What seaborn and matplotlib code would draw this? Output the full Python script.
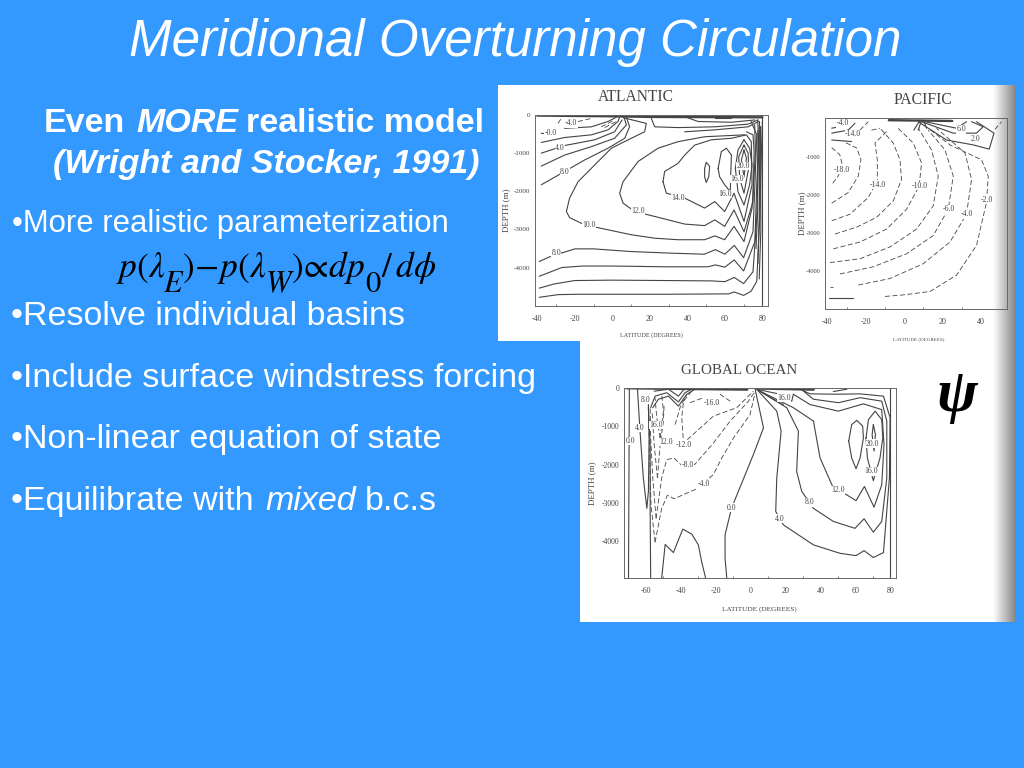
import numpy as np
import pandas as pd
import seaborn as sns
import matplotlib.pyplot as plt
from matplotlib.patches import Rectangle

# contours, (latitude, depth)
# ---- Atlantic
atl_a = [(-39,-4780),(-29,-4710),(-18,-4700),(0,-4700),(28,-4700),(62,-4690),(65,-4640),(70,-4730),(74,-4620),(77,-4360),(78.6,-2700),(79.5,-960),(80,-170)]
atl_b = [(-39,-4540),(-31,-4430),(-20,-4340),(0,-4330),(28,-4340),(53,-4350),(60,-4370),(65,-4260),(70,-4420),(75,-4110),(77,-2700),(78,-960),(78.5,-170)]
atl_c = [(-39,-4230),(-27,-4000),(-16,-3960),(0,-3960),(28,-3980),(51,-3980),(55,-3930),(60,-3990),(65,-3800),(70,-4090),(76,-3320),(77,-1840),(78,-700),(77.5,-130)]
atl_8 = [(-39,-3840),(-33,-3710),(-20,-3510),(-10,-3510),(10,-3580),(30,-3620),(49,-3650),(55,-3530),(60,-3650),(65,-3420),(70,-3740),(75,-3060),(76,-1840),(77,-520),(74,-170)]
atl_10 = [(5.7,-70),(18.1,-220),(17.2,-440),(10.1,-610),(-0.5,-870),(-7.6,-1220),(-18.3,-1750),(-22.8,-2180),(-24.5,-2530),(-22.8,-2690),(-14.8,-2880),(-2.3,-3010),(10.1,-3140),(22.6,-3230),(35,-3270),(49.2,-3270),(54.6,-3170),(59.9,-3270),(64.9,-2920),(70.2,-3320),(74.5,-2440),(76.3,-960),(75.9,-260)]
atl_12 = [(70.6,-520),(49.2,-570),(35,-700),(24.4,-870),(13.7,-1220),(5.7,-1750),(3.9,-2050),(5.7,-2310),(11.9,-2530),(22.6,-2660),(38.6,-2860),(49.2,-2900),(54.6,-2750),(59.9,-2920),(64.9,-2490),(70.2,-3060),(75,-2270),(75.6,-960),(75,-520),(71.5,-440)]
atl_14 = [(27,-1750),(27.9,-1480),(35,-1270),(38.6,-1050),(43.9,-790),(52.8,-650),(63.5,-610),(71.5,-520),(74.1,-700),(74.5,-1830),(70.2,-2790),(64.9,-2050),(59.9,-2530),(54.6,-2270),(49.2,-2440),(43.9,-2310),(38.6,-2180),(28.8,-2050),(27,-1750)]
atl_16a = [(56.4,-1400),(58.1,-960),(60.8,-870),(63.5,-1050),(63.1,-1570),(62.9,-2010),(59.9,-1830),(57.2,-1620),(56.4,-1400)]
atl_18a = [(49.2,-1400),(50.1,-1240),(51.9,-1350),(51.4,-1620),(50.1,-1770),(49.2,-1620),(49.2,-1400)]
atl_16b = [(70.2,-650),(73.2,-870),(74.5,-1310),(73.2,-1830),(70.2,-2360),(67,-2010),(65.6,-1400),(67,-920),(70.2,-650)]
atl_18b = [(70.2,-790),(72.4,-1000),(72.7,-1400),(70.2,-2050),(67.9,-1660),(67.4,-1090),(70.2,-790)]
atl_20 = [(70.2,-920),(71.5,-1130),(70.2,-1620),(68.8,-1180),(70.2,-920)]
atl_l0 = [(-25.4,-350),(-11.2,-310),(-2.3,-170),(2.1,-60)]
atl_l1 = [(-37.9,-720),(-25.4,-590),(-11.2,-520),(-2.3,-390),(3,-170),(3.9,-60)]
atl_l2 = [(-37.9,-1000),(-25.4,-800),(-9.4,-650),(1.2,-440),(5.2,-130)]
atl_l3 = [(-37.9,-1340),(-25.4,-1050),(-11.2,-830),(1.2,-610),(7.5,-260),(6.2,-60)]
atl_l4 = [(-37.9,-1830),(-27.2,-1530),(-14.8,-1180),(-2.3,-870),(6.6,-610),(9.2,-310),(7.5,-60)]
atl_zero = [(-37.9,-480),(-30.8,-500)]
atl_t1 = [(20.8,-90),(22.6,-310),(35,-330),(54.6,-310),(72.4,-240),(77.7,-130)]
atl_t2 = [(39.5,-60),(45.7,-170),(63.5,-190),(75.9,-130)]
atl_t3 = [(54.6,-90),(63.5,-90)]
atl_t4 = [(38.6,-440),(54.6,-390),(72.4,-310),(78,-170)]
atl_wall = [(80,-30),(80,-5000)]
atl_wall2 = [(79,-300),(79.2,-3000),(78.3,-4300)]
atl_wall3 = [(78.6,-300),(78.4,-2500),(77.6,-3900)]
atl_wall4 = [(77.6,-400),(77.5,-2500),(76.6,-3500)]
atl_d1 = [(-29,-220),(-27.2,-90)]
atl_d2 = [(-18.3,-170),(-11.2,-90)]
atl_d3 = [(-5.9,-310),(1.2,-130)]
atl_d4 = [(-4.1,-330),(2.1,-170)]
atl_surface = [(-40,-15),(3,-35),(20,-50),(80,-60)]
atl_solid = [atl_a,atl_b,atl_c,atl_8,atl_10,atl_12,atl_14,atl_16a,atl_18a,atl_16b,atl_18b,atl_20,atl_l0,atl_l1,atl_l2,atl_l3,atl_l4,atl_zero,atl_t1,atl_t2,atl_t3,atl_t4,atl_wall,atl_wall2,atl_wall3,atl_wall4]
atl_dashed = [atl_d1,atl_d2,atl_d3,atl_d4]
atl_label_text = ["-4.0","-0.0","4.0","8.0","8.0","10.0","12.0","14.0","16.0","16.0","20.0"]
atl_label_lat = [-22,-33,-28,-25.4,-30,-12.6,13.7,35,60,66.3,69.7]
atl_label_depth = [-220,-480,-870,-1500,-3620,-2880,-2510,-2180,-2070,-1680,-1340]

# ---- Pacific
pac_18 = [(-37.7,-750),(-33.5,-940),(-32,-1240),(-34.5,-1510),(-37.7,-1720)]
pac_16 = [(-37.7,-2210),(-29.1,-1930),(-23.9,-1500),(-22.5,-1070),(-24.7,-760),(-31.7,-590)]
pac_14 = [(-37.7,-2670),(-28.2,-2500),(-18.7,-2060),(-14,-1630),(-14,-1070),(-15.2,-630),(-9.2,-330)]
pac_12 = [(-36,-3020),(-24.7,-2840),(-14.3,-2580),(-5.7,-2150),(-1.4,-1590),(-2.2,-1070),(-5.7,-630),(-12.6,-240)]
pac_10 = [(-36.9,-3410),(-23,-3230),(-9.2,-2890),(1.2,-2370),(7.8,-1760),(9,-1150),(4.7,-630),(-4,-200)]
pac_8 = [(-38.6,-3770),(-23,-3670),(-7.4,-3360),(6.4,-2890),(15.1,-2280),(17.7,-1500),(14.2,-810),(7.3,-240)]
pac_6 = [(-33.4,-4070),(-16.1,-3880),(1.2,-3540),(15.1,-3060),(22.9,-2370),(25.5,-1500),(21.2,-810),(12.5,-290)]
pac_4a = [(-38.6,-4400),(-36.9,-4400)]
pac_4b = [(-23.9,-4360),(-7.4,-4190),(9.9,-3800),(23.8,-3230),(32.4,-2500),(35,-1590),(31.6,-890),(16.8,-240)]
pac_2b = [(-10,-4660),(-0.5,-4620),(13.4,-4530),(27.2,-4100),(37.6,-3320),(42.8,-2190),(43.7,-1500),(40.2,-1070),(23.8,-680),(12.5,-240)]
pac_d1 = [(-17,-290),(-12.6,-240)]
pac_d2 = [(-23,-290),(-18.7,-70)]
pac_d3 = [(47.2,-270),(50.6,-70)]
pac_2a = [(-39,-4710),(-26.5,-4710)]
pac_s1 = [(7.3,-70),(22,-550),(36,-680),(44.2,-790),(46.7,-370),(37.6,-70)]
pac_s2 = [(9,-70),(25.5,-370),(37.6,-370),(41.1,-200),(35,-70)]
pac_s3 = [(10.8,-70),(27.2,-240),(32.4,-70)]
pac_f1 = [(8.2,-30),(5,-290)]
pac_f2 = [(9,-30),(7.3,-290)]
pac_f3 = [(10,-30),(11.6,-240)]
pac_p1 = [(-37.7,-240),(-33.4,-200),(-31.7,-70)]
pac_p2 = [(-37.7,-370),(-29.1,-290),(-25.6,-110)]
pac_p3 = [(-37.7,-550),(-27.4,-590)]
pac_surface = [(-8,-30),(25,-50)]
pac_solid = [pac_2a,pac_s1,pac_s2,pac_s3,pac_f1,pac_f2,pac_f3,pac_p1,pac_p2,pac_p3]
pac_dashed = [pac_18,pac_16,pac_14,pac_12,pac_10,pac_8,pac_6,pac_4a,pac_4b,pac_2b,pac_d1,pac_d2,pac_d3]
pac_label_text = ["-4.0","-14.0","-18.0","-14.0","-10.0","-6.0","-4.0","-2.0","6.0","2.0"]
pac_label_lat = [-32,-26.5,-32.5,-13.5,8.2,23.4,32.4,43.2,29.5,37.1]
pac_label_depth = [-110,-390,-1330,-1720,-1760,-2370,-2500,-2120,-270,-520]

# ---- Global
glo_0a = [(-69.5,0),(-70,-4960)]
glo_4l = [(-64.9,0),(-63.4,-1130),(-61.5,-2350),(-59.5,-3140),(-58.6,-2700),(-58.2,-1310),(-58.6,-440)]
glo_v = [(-58.6,-520),(-57.6,-1480),(-57.6,-3220),(-57.3,-4960)]
glo_0c = [(2.5,-40),(7.3,-1045),(1.5,-1740),(-11,-3135),(-14.7,-3830),(-14.7,-4440),(-13.7,-4960)]
glo_4 = [(3.4,-40),(14.9,-610),(17.4,-1130),(14.9,-2350),(14.3,-3220),(18.7,-3570),(35.9,-4090),(51.1,-4310),(60.3,-4370),(64.9,-4240),(70.2,-4420),(76,-4290),(79.4,-2350),(79.8,-780),(76,-220),(62.6,-160),(49.2,-170),(34,-160),(28.2,-40)]
glo_8 = [(3.4,-40),(20.6,-520),(27.3,-1130),(26.3,-2180),(29.2,-2700),(35.9,-3140),(47.3,-3480),(59.7,-3660),(64.9,-3410),(70.2,-3760),(75,-3480),(77.9,-2350),(77.9,-870),(75,-350),(62.6,-260),(50.2,-390),(35.9,-300),(30.2,-90)]
glo_12 = [(5.3,-90),(24.4,-520),(35.9,-870),(39.7,-1830),(47.3,-2610),(55,-2790),(60.3,-2940),(65.1,-2570),(70.6,-3110),(75,-2530),(76.3,-1480),(75,-570),(64.5,-420),(50.2,-610),(34,-440),(24.4,-170)]
glo_16r = [(66,-1310),(67.4,-830),(71.2,-610),(75,-830),(75.6,-1310),(74,-1830),(70.2,-2420),(66.8,-1830),(66,-1310)]
glo_16l = [(56.1,-1390),(57.8,-960),(60.7,-850),(64.1,-1000),(64.5,-1310),(62.6,-1830),(60.3,-2110),(57.8,-1830),(56.1,-1390)]
glo_20 = [(70.2,-960),(71.4,-1220),(70.6,-1650),(69.5,-1220),(70.2,-960)]
glo_bump = [(-51,-4960),(-49,-4080),(-44.3,-4290),(-38.9,-3680),(-33.8,-3810),(-30,-4090),(-28.1,-4530),(-25.8,-4960)]
glo_u1 = [(-57.3,-520),(-54.8,-220),(-48.1,-130),(-41.4,-370),(-37.6,-130),(-33.8,-40)]
glo_u2 = [(-56.1,-520),(-52.9,-300),(-47.1,-220),(-41.4,-480),(-36.6,-170),(-31.9,-40)]
glo_u3 = [(-55.3,-90),(-47.1,-40),(-41.4,-220),(-38.5,-60)]
glo_f1 = [(3.4,-40),(13,-300),(18.7,-440)]
glo_f2 = [(3.4,-40),(16.8,-170),(23.5,-350),(24.4,-170)]
glo_lens = [(47.3,-100),(55,-40)]
glo_wall = [(80,0),(80,-4960)]
glo_m4w = [(-54.8,-4020),(-57.1,-3050),(-58,-1480),(-58.6,-610)]
glo_m4e = [(-54.8,-4020),(-51,-3140),(-47.7,-2800),(-43.9,-2890),(-30.9,-2630),(-21.4,-2260),(-16.6,-1830),(-9.9,-1310),(-0.4,-700),(2.5,-130)]
glo_m8w = [(-54.2,-3400),(-56.1,-2350),(-57.3,-1310),(-57.6,-520)]
glo_m8e = [(-54.2,-3400),(-51,-2350),(-48.1,-1870),(-43.9,-1830),(-38.5,-2070),(-31.9,-1990),(-21.4,-1440),(-11.8,-870),(-1.3,-350),(2.5,-90)]
glo_m12w = [(-53.4,-2350),(-55.3,-1480),(-56.5,-610)]
glo_m12e = [(-53.4,-2350),(-51.9,-1480),(-50,-870),(-49.6,-440)]
glo_m12b = [(-33.8,-90),(-38.5,-350),(-39.5,-780),(-38.5,-1440),(-30.9,-1130),(-21.4,-740),(-8,-520),(1.5,-90)]
glo_m16w = [(-51.9,-1310),(-53.8,-780),(-54.8,-260)]
glo_m16e = [(-51.9,-1310),(-50,-610),(-51,-170)]
glo_m16b = [(-43.3,-960),(-40.5,-520),(-36.6,-170)]
glo_d1 = [(-34.7,-390),(-27.1,-260)]
glo_d2 = [(-17.6,-170),(-11.8,-350)]
glo_surface1 = [(-71,-15),(-2,-50)]
glo_surface2 = [(3,-20),(36,-50)]
glo_solid = [glo_0a,glo_4l,glo_v,glo_0c,glo_4,glo_8,glo_12,glo_16r,glo_16l,glo_20,glo_bump,glo_u1,glo_u2,glo_u3,glo_f1,glo_f2,glo_lens,glo_wall]
glo_dashed = [glo_m4w,glo_m4e,glo_m8w,glo_m8e,glo_m12w,glo_m12e,glo_m12b,glo_m16w,glo_m16e,glo_m16b,glo_d1,glo_d2]
glo_label_text = ["8.0","4.0","16.0","12.0","0.0","-12.0","-8.0","-4.0","-16.0","16.0","12.0","8.0","4.0","0.0","20.0","16.0"]
glo_label_lat = [-60.5,-63.4,-54.2,-48.7,-69,-38.2,-36.3,-27,-22.3,19,49.8,33.6,16.8,-10.9,69.8,68.7]
glo_label_depth = [-320,-1045,-975,-1410,-1390,-1480,-2020,-2510,-390,-260,-2670,-2980,-3410,-3120,-1460,-2180]

depth_ticks = [0,-1000,-2000,-3000,-4000]
pac_depth_ticks = [-1000,-2000,-3000,-4000]
atl_lat_ticks = [-40,-20,0,20,40,60,80]
pac_lat_ticks = [-40,-20,0,20,40]
glo_lat_ticks = [-60,-40,-20,0,20,40,60,80]

BLUE = "#3399FF"
INK = "#444444"
W, H = 1024, 768

sns.set_theme(style="white")
plt.rcParams["font.family"] = ["Liberation Sans", "DejaVu Sans"]
plt.rcParams["mathtext.fontset"] = "stix"
plt.rcParams["axes.unicode_minus"] = False

fig = plt.figure(figsize=(W/100, H/100), dpi=100, facecolor=BLUE)
bg = fig.add_axes([0,0,1,1], facecolor=BLUE)
bg.axis("off")

# the scanned page, with the shadow of the book spine on the right
bg.add_patch(Rectangle((498,85),518,256,fc="white",ec="none"))
bg.add_patch(Rectangle((580,341),436,281,fc="white",ec="none"))
shade = np.linspace(1,0.52,40).reshape(1,-1)
bg.imshow(shade,extent=(993,1016,622,85),cmap="gray",vmin=0,vmax=1,aspect="auto",zorder=2)
bg.set_xlim(0,W)
bg.set_ylim(H,0)

def label(x,y,s,**kw):
    kw.setdefault("color","white")
    kw.setdefault("va","baseline")
    bg.text(x,y,s,**kw)

label(515,56,"Meridional Overturning Circulation",fontsize=36.8,style="italic",ha="center")
label(44,132,"Even",fontsize=24.5,weight="bold")
label(136,132,"MORE",fontsize=24.5,weight="bold",style="italic")
label(246,132,"realistic model",fontsize=24.5,weight="bold")
label(266,173,"(Wright and Stocker, 1991)",fontsize=24.5,weight="bold",style="italic",ha="center")

label(12,232,"\u2022More realistic parameterization",fontsize=22.4)
label(11,325,"\u2022Resolve individual basins",fontsize=24.5)
label(11,387,"\u2022Include surface windstress forcing",fontsize=24.5)
label(11,448,"\u2022Non-linear equation of state",fontsize=24.5)
label(11,510,"\u2022Equilibrate with",fontsize=24.5)
label(265,510,"mixed",fontsize=24.5,style="italic")
label(365,510,"b.c.s",fontsize=24.5)

# formula pieces, big subscripts like the slide
for x,y,s,fs in [(116,277,r"$p(\lambda$",25.5),(163,292,r"$E$",22),(182,277,r"$)\!-\!p(\lambda$",25.5),
                 (265,292,r"$W$",22),(291,277,r"$)\!\propto\!dp$",25.5),(365,292,r"$\mathrm{0}$",22),(381,277,r"$/\,d\phi$",25.5)]:
    label(x,y,s,fontsize=fs,color="black")

label(936,411,"\u03c8",fontsize=44,color="black",family="Liberation Serif",style="italic",weight="bold",zorder=5)
label(598,101,"ATLANTIC",fontsize=11.2,color=INK,family="Liberation Serif",zorder=5)
label(894,104,"PACIFIC",fontsize=11.3,color=INK,family="Liberation Serif",zorder=5)
label(681,374,"GLOBAL OCEAN",fontsize=10.8,color=INK,family="Liberation Serif",zorder=5)

def draw(ax,pts,dashed=False,lw=0.8):
    df = pd.DataFrame(pts,columns=["lat","depth"])
    sns.lineplot(data=df,x="lat",y="depth",sort=False,estimator=None,ax=ax,color=INK,
                 linewidth=lw,linestyle=(0,(6,3)) if dashed else "-",legend=False)

def panel(box,xlim,ylim,solid,dashed,surface,xticks,yticks,text,lat,depth,xlabel_pos,xlabel_size,ylabel_x,ytick_size):
    left,right,top,bottom = box
    ax = fig.add_axes([left/W,1-bottom/H,(right-left)/W,(bottom-top)/H],facecolor="none",zorder=3)
    for c in solid:
        draw(ax,c)
    for c in dashed:
        draw(ax,c,dashed=True,lw=0.6)
    for c in surface:
        draw(ax,c,lw=1.7)
    ax.set_xlim(*xlim)
    ax.set_ylim(*ylim)
    ax.set_xticks(xticks)
    ax.set_yticks(yticks)
    ax.set_xticks(np.arange(xticks[0],xticks[-1]+1,10),minor=True)
    ax.tick_params(axis="x",which="major",direction="out",length=2,width=0.6,color=INK,
                   labelsize=5.8,labelcolor=INK,pad=4.5)
    ax.tick_params(axis="y",which="major",direction="out",length=2,width=0.6,color=INK,
                   labelsize=ytick_size,labelcolor=INK,pad=1.5)
    ax.tick_params(axis="x",which="minor",direction="in",length=1.5,width=0.5,color=INK,bottom=True)
    for tick in ax.get_xticklabels()+ax.get_yticklabels():
        tick.set_family("Liberation Serif")
    ax.set_xlabel("")
    ax.set_ylabel("")
    for s in ax.spines.values():
        s.set_linewidth(0.7)
        s.set_color("#666666")
    ax.grid(False)
    for s,x,y in zip(text,lat,depth):
        ax.text(x,y,s,fontsize=5.6,color=INK,ha="center",va="center",family="Liberation Serif",
                bbox=dict(fc="white",ec="none",pad=0.2))
    bg.text(xlabel_pos[0],xlabel_pos[1],"LATITUDE (DEGREES)",fontsize=xlabel_size,color=INK,ha="center",va="center",
            family="Liberation Serif",zorder=5)
    bg.text(ylabel_x,(top+bottom)/2,"DEPTH (m)",fontsize=6.4,color=INK,rotation=90,ha="center",va="center",
            family="Liberation Serif",zorder=5)
    return ax

panel((534.7,768,115,305.7),(-41.4,83),(-5000,0),atl_solid,atl_dashed,[atl_surface],atl_lat_ticks,depth_ticks,
      atl_label_text,atl_label_lat,atl_label_depth,(651,335),4.4,506,5)
panel((825,1006.7,118.3,309),(-41.2,53.3),(-4990,20),pac_solid,pac_dashed,[pac_surface],pac_lat_ticks,pac_depth_ticks,
      pac_label_text,pac_label_lat,pac_label_depth,(919,339),3.6,802,4.6)
panel((624.3,895.7,387.7,578.3),(-72.4,83),(-4960,0),glo_solid,glo_dashed,[glo_surface1,glo_surface2],glo_lat_ticks,depth_ticks,
      glo_label_text,glo_label_lat,glo_label_depth,(759,609),5.2,592,5.5)

fig.savefig("out.png",dpi=100,facecolor=BLUE)
